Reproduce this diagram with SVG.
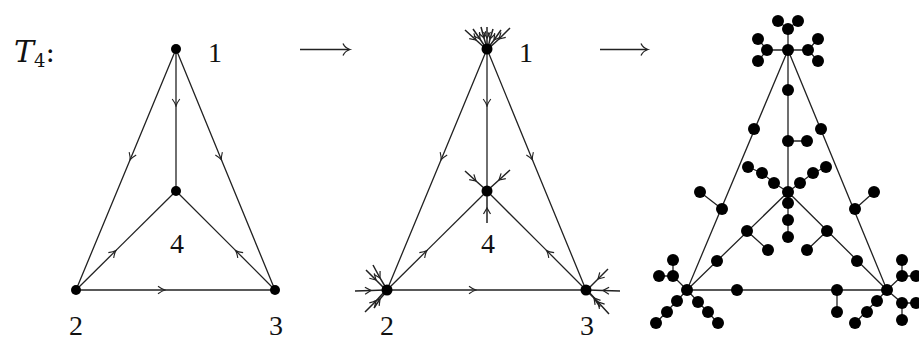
<svg xmlns="http://www.w3.org/2000/svg" width="919" height="342" viewBox="0 0 919 342">
<style>
.e{fill:none;stroke:#222;stroke-width:1.3}
.a{fill:none;stroke:#222;stroke-width:1.3;marker-mid:url(#ah)}
.s{fill:none;stroke:#222;stroke-width:1.5;marker-mid:url(#sh)}
.d{fill:#000}
.l{font-family:'Liberation Serif',serif;font-size:28px;fill:#111;text-anchor:middle}
</style>
<defs>
<marker id="ah" viewBox="-8 -5 9 10" markerWidth="9" markerHeight="10" refX="0" refY="0" orient="auto" markerUnits="userSpaceOnUse">
<path d="M-7,-3.8 Q-3,-0.8 0,0 Q-3,0.8 -7,3.8" fill="none" stroke="#222" stroke-width="1.1"/>
</marker>
<marker id="sh" viewBox="-7 -5 8 10" markerWidth="8" markerHeight="10" refX="0" refY="0" orient="auto" markerUnits="userSpaceOnUse">
<path d="M-6,-3.5 L0,0 L-6,3.5" fill="none" stroke="#222" stroke-width="1.2"/>
</marker>
</defs>

<text x="14" y="62" font-family="'DejaVu Serif', serif" font-size="30" font-style="italic" fill="#111">T<tspan font-size="18" font-style="normal" dy="5">4</tspan><tspan font-size="28" font-style="normal" dy="-5">:</tspan></text>

<!-- panel arrows -->
<g id="arrow1">
<line class="e" x1="300" y1="49.5" x2="349" y2="49.5"/>
<path class="e" d="M343,43.5 Q345,48 350,49.5 Q345,51 343,55.5"/>
</g>
<g id="arrow2">
<line class="e" x1="600" y1="49.5" x2="647" y2="49.5"/>
<path class="e" d="M641,43.5 Q643,48 648,49.5 Q643,51 641,55.5"/>
</g>

<!-- Panel 1 -->
<g id="panel1">
<g id="p1-edges">
<path class="a" d="M176,49 L130,160 L76,290"/>
<path class="a" d="M176,49 L221.5,160 L275,290"/>
<path class="a" d="M176,49 L176,106 L176,191"/>
<path class="a" d="M76,290 L116,250.4 L176,191"/>
<path class="a" d="M275,290 L235.5,250.4 L176,191"/>
<path class="a" d="M76,290 L165,290 L275,290"/>
</g>
<g id="p1-n1"><circle class="d" cx="176" cy="49" r="5"/><text class="l" x="215" y="62">1</text></g>
<g id="p1-n2"><circle class="d" cx="76" cy="290" r="5"/><text class="l" x="76" y="335">2</text></g>
<g id="p1-n3"><circle class="d" cx="275" cy="290" r="5"/><text class="l" x="276" y="335">3</text></g>
<g id="p1-n4"><circle class="d" cx="176" cy="191" r="5"/><text class="l" x="177" y="253">4</text></g>
</g>

<!-- Panel 2 -->
<g id="panel2" transform="translate(311,0)">
<g id="p2-edges">
<path class="a" d="M176,49 L130,160 L76,290"/>
<path class="a" d="M176,49 L221.5,160 L275,290"/>
<path class="a" d="M176,49 L176,106 L176,191"/>
<path class="a" d="M76,290 L116,250.4 L176,191"/>
<path class="a" d="M275,290 L235.5,250.4 L176,191"/>
<path class="a" d="M76,290 L165,290 L275,290"/>
</g>
<g id="p2-spikes">
<path class="s" d="M154,30 L165,40 L175,49"/>
<path class="s" d="M162,29 L169,39 L175,48"/>
<path class="s" d="M170,27 L173,38 L176,48"/>
<path class="s" d="M176,27 L176,38 L176,48"/>
<path class="s" d="M182,29 L179,39 L177,48"/>
<path class="s" d="M190,30 L183,40 L177,48"/>
<path class="s" d="M199,28 L188,39 L177,49"/>
<path class="s" d="M154,171 L165,181 L174,189"/>
<path class="s" d="M199,170 L188,180 L178,189"/>
<path class="s" d="M176,223 L176,208 L176,193"/>
<path class="s" d="M44,291 L60,290.5 L74,290"/>
<path class="s" d="M55,270 L65,280 L74,289"/>
<path class="s" d="M62,265 L69,278 L75,288"/>
<path class="s" d="M54,312 L65,301 L74,291"/>
<path class="s" d="M63,308 L69,299 L75,292"/>
<path class="s" d="M309,291 L292,290.5 L277,290"/>
<path class="s" d="M297,269 L287,279 L277,289"/>
<path class="s" d="M298,314 L287,302 L277,291"/>
<path class="s" d="M289,307 L283,298 L277,292"/>
</g>
<g id="p2-n1"><circle class="d" cx="176" cy="49" r="5.5"/><text class="l" x="215" y="62">1</text></g>
<g id="p2-n2"><circle class="d" cx="76" cy="290" r="5.5"/><text class="l" x="76" y="335">2</text></g>
<g id="p2-n3"><circle class="d" cx="275" cy="290" r="5.5"/><text class="l" x="276" y="335">3</text></g>
<g id="p2-n4"><circle class="d" cx="176" cy="191" r="5.5"/><text class="l" x="177" y="253">4</text></g>
</g>

<!-- Panel 3 -->
<g id="panel3">
<g id="p3-edges">
<path class="e" d="M788,50 L687,290 L887,290 Z"/>
<path class="e" d="M788,50 L788,192 M687,290 L788,192 L887,290"/>
<path class="e" d="M788,50 L788,29 M778,21 L788,29 L798,21 M758,39 L767,50 L758,61 M767,50 L808,50 M818,39 L808,50 L818,61"/>
<path class="e" d="M788,141 L807,141 M722,209 L700,192 M855,209 L874,192"/>
<path class="e" d="M788,192 L774,183 L762,173 L748,167 M788,192 L800,183 L813,173 L826,167 M788,192 L788,237"/>
<path class="e" d="M747,231 L768,250 M827,231 L807,250 M837,290 L837,312"/>
<path class="e" d="M687,290 L673,276 L673,260 M673,276 L659,276 M687,290 L656,323 M687,290 L718,323"/>
<path class="e" d="M887,290 L902,276 L902,260 M902,276 L916,276 M887,290 L902,303 L916,303 M902,303 L902,320 M887,290 L855,323"/>
</g>
<g id="p3-n1"><circle class="d" cx="788" cy="50" r="6"/></g>
<g id="p3-n2"><circle class="d" cx="687" cy="290" r="6"/></g>
<g id="p3-n3"><circle class="d" cx="887" cy="290" r="6"/></g>
<g id="p3-n4"><circle class="d" cx="788" cy="192" r="6"/></g>
<g id="p3-tree1">
<circle class="d" cx="788" cy="29" r="6"/><circle class="d" cx="778" cy="21" r="6"/><circle class="d" cx="798" cy="21" r="6"/>
<circle class="d" cx="767" cy="50" r="6"/><circle class="d" cx="758" cy="39" r="6"/><circle class="d" cx="758" cy="61" r="6"/>
<circle class="d" cx="808" cy="50" r="6"/><circle class="d" cx="818" cy="39" r="6"/><circle class="d" cx="818" cy="61" r="6"/>
</g>
<g id="p3-edge14"><circle class="d" cx="788" cy="90" r="6"/><circle class="d" cx="788" cy="141" r="6"/><circle class="d" cx="807" cy="141" r="6"/></g>
<g id="p3-edge12"><circle class="d" cx="754" cy="129" r="6"/><circle class="d" cx="722" cy="209" r="6"/><circle class="d" cx="700" cy="192" r="6"/></g>
<g id="p3-edge13"><circle class="d" cx="821" cy="129" r="6"/><circle class="d" cx="855" cy="209" r="6"/><circle class="d" cx="874" cy="192" r="6"/></g>
<g id="p3-tree4">
<circle class="d" cx="774" cy="183" r="6"/><circle class="d" cx="762" cy="173" r="6"/><circle class="d" cx="748" cy="167" r="6"/>
<circle class="d" cx="800" cy="183" r="6"/><circle class="d" cx="813" cy="173" r="6"/><circle class="d" cx="826" cy="167" r="6"/>
<circle class="d" cx="788" cy="203" r="6"/><circle class="d" cx="788" cy="220" r="6"/><circle class="d" cx="788" cy="237" r="6"/>
</g>
<g id="p3-edge24"><circle class="d" cx="717" cy="261" r="6"/><circle class="d" cx="747" cy="231" r="6"/><circle class="d" cx="768" cy="250" r="6"/></g>
<g id="p3-edge34"><circle class="d" cx="857" cy="261" r="6"/><circle class="d" cx="827" cy="231" r="6"/><circle class="d" cx="807" cy="250" r="6"/></g>
<g id="p3-edge23"><circle class="d" cx="737" cy="290" r="6"/><circle class="d" cx="837" cy="290" r="6"/><circle class="d" cx="837" cy="312" r="6"/></g>
<g id="p3-tree2">
<circle class="d" cx="673" cy="276" r="6"/><circle class="d" cx="673" cy="260" r="6"/><circle class="d" cx="659" cy="276" r="6"/>
<circle class="d" cx="677" cy="301" r="6"/><circle class="d" cx="667" cy="312" r="6"/><circle class="d" cx="656" cy="323" r="6"/>
<circle class="d" cx="698" cy="302" r="6"/><circle class="d" cx="708" cy="312" r="6"/><circle class="d" cx="718" cy="323" r="6"/>
</g>
<g id="p3-tree3">
<circle class="d" cx="902" cy="276" r="6"/><circle class="d" cx="902" cy="260" r="6"/><circle class="d" cx="916" cy="276" r="6"/>
<circle class="d" cx="902" cy="303" r="6"/><circle class="d" cx="916" cy="303" r="6"/><circle class="d" cx="902" cy="320" r="6"/>
<circle class="d" cx="877" cy="301" r="6"/><circle class="d" cx="867" cy="312" r="6"/><circle class="d" cx="855" cy="323" r="6"/>
</g>
</g>
</svg>
